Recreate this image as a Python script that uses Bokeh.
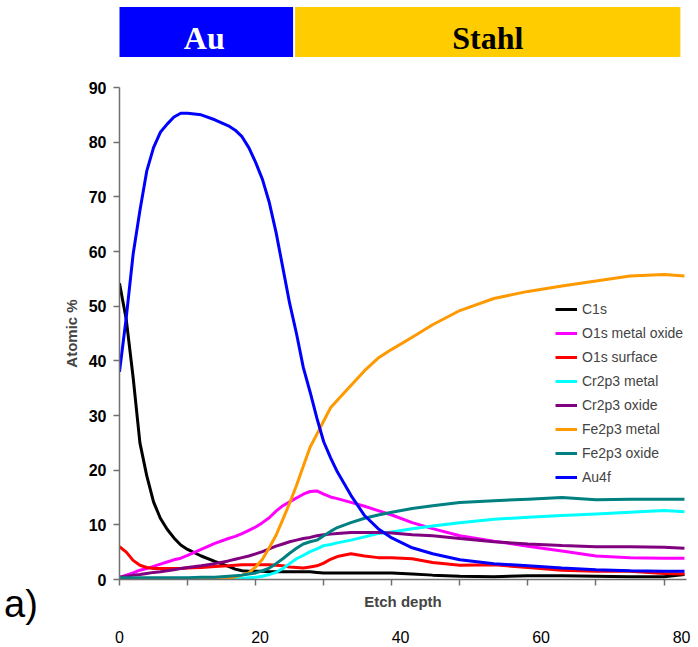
from bokeh.plotting import figure
from bokeh.models import Range1d, LinearAxis, FixedTicker, Legend, LegendItem, Div
from bokeh.layouts import column, row
from bokeh.embed import file_html
from bokeh.resources import INLINE
from bokeh.core.properties import value

# ---------------- data ----------------
depth = [0, 1, 2, 3, 4, 5, 6, 7, 8, 9, 10, 12, 14, 16, 17, 18, 19, 20, 21, 22, 23, 24,
         25, 26, 27, 28, 29, 30, 31, 32, 34, 36, 38, 40, 43, 46, 50, 55, 60, 65, 70, 75, 80, 83]

c1s = [54.2, 47.5, 37.0, 25.0, 19.0, 14.2, 11.2, 9.2, 7.6, 6.3, 5.5, 4.3, 3.3, 2.4, 1.9, 1.6, 1.5, 1.5,
       1.5, 1.4, 1.4, 1.4, 1.4, 1.4, 1.4, 1.4, 1.3, 1.2, 1.2, 1.2, 1.2, 1.2, 1.2, 1.2, 1.0, 0.8, 0.6,
       0.5, 0.7, 0.7, 0.6, 0.5, 0.5, 0.9]
o1s_metal_oxide = [0.4, 0.8, 1.2, 1.7, 2.0, 2.4, 2.8, 3.2, 3.6, 3.9, 4.4, 5.5, 6.6, 7.5, 7.9, 8.4, 9.0,
                   9.6, 10.4, 11.3, 12.5, 13.5, 14.2, 14.9, 15.6, 16.1, 16.2, 15.6, 15.1, 14.8, 14.1,
                   13.4, 12.6, 11.8, 10.4, 9.3, 8.0, 7.0, 6.1, 5.2, 4.3, 4.0, 3.9, 3.9]
o1s_surface = [6.0, 5.0, 3.5, 2.6, 2.2, 2.0, 2.0, 2.0, 2.0, 2.0, 2.1, 2.2, 2.4, 2.5, 2.6, 2.7, 2.7, 2.7,
               2.7, 2.7, 2.6, 2.5, 2.3, 2.2, 2.1, 2.3, 2.5, 3.0, 3.7, 4.2, 4.7, 4.3, 4.0, 4.0, 3.8, 3.1,
               2.6, 2.7, 2.2, 1.7, 1.5, 1.5, 1.1, 1.0]
cr2p3_metal = [0.2, 0.2, 0.2, 0.2, 0.2, 0.2, 0.2, 0.2, 0.2, 0.2, 0.2, 0.2, 0.2, 0.2, 0.2, 0.2, 0.3, 0.4,
               0.6, 0.9, 1.3, 2.0, 2.9, 3.8, 4.4, 5.1, 5.6, 6.2, 6.4, 6.7, 7.2, 7.8, 8.4, 8.7, 9.3, 9.8,
               10.4, 11.0, 11.4, 11.7, 12.0, 12.3, 12.6, 12.4]
cr2p3_oxide = [0.4, 0.6, 0.8, 0.9, 1.1, 1.3, 1.4, 1.6, 1.8, 2.0, 2.2, 2.5, 2.9, 3.4, 3.7, 4.0, 4.3, 4.7,
               5.1, 5.6, 6.1, 6.5, 6.9, 7.2, 7.5, 7.7, 8.0, 8.2, 8.3, 8.4, 8.6, 8.6, 8.6, 8.5, 8.2, 8.0,
               7.5, 6.9, 6.5, 6.2, 6.0, 6.0, 5.9, 5.7]
fe2p3_metal = [0.1, 0.1, 0.1, 0.1, 0.1, 0.1, 0.1, 0.1, 0.1, 0.1, 0.1, 0.1, 0.1, 0.2, 0.5, 0.8, 1.2, 2.3,
               3.7, 5.8, 8.1, 11.0, 14.0, 17.2, 20.7, 24.2, 26.6, 29.0, 31.4, 32.8, 35.5, 38.2, 40.5,
               42.1, 44.3, 46.6, 49.2, 51.4, 52.7, 53.7, 54.6, 55.5, 55.8, 55.5]
fe2p3_oxide = [0.3, 0.3, 0.3, 0.3, 0.3, 0.3, 0.3, 0.3, 0.3, 0.3, 0.3, 0.4, 0.4, 0.6, 0.7, 0.8, 1.0, 1.2,
               1.6, 2.1, 2.9, 3.8, 4.8, 5.7, 6.5, 6.9, 7.2, 8.0, 8.8, 9.5, 10.4, 11.2, 11.8, 12.3, 13.0,
               13.5, 14.1, 14.4, 14.7, 15.0, 14.6, 14.7, 14.7, 14.7]
au4f = [38.0, 48.0, 59.5, 67.5, 74.7, 79.0, 81.8, 83.3, 84.6, 85.3, 85.3, 85.0, 84.1, 83.0, 82.2, 81.0,
        79.0, 76.3, 73.2, 69.0, 63.5, 57.0, 50.5, 45.0, 38.8, 34.3, 29.5, 25.2, 22.3, 19.7, 15.4, 11.7,
        9.3, 7.6, 5.8, 4.7, 3.6, 2.9, 2.5, 2.1, 1.8, 1.6, 1.5, 1.5]

series_names = ["C1s", "O1s metal oxide", "O1s surface", "Cr2p3 metal", "Cr2p3 oxide",
                "Fe2p3 metal", "Fe2p3 oxide", "Au4f"]
series_values = [c1s, o1s_metal_oxide, o1s_surface, cr2p3_metal, cr2p3_oxide,
                 fe2p3_metal, fe2p3_oxide, au4f]
series_colors = ["#000000", "#FF00FF", "#FF0000", "#00FFFF", "#800080",
                 "#FF9900", "#008080", "#0000FF"]

y_ticks = [0, 10, 20, 30, 40, 50, 60, 70, 80, 90]
x_ticks = [0, 10, 20, 30, 40, 50, 60, 70, 80]
bottom_labels = [0, 20, 40, 60, 80]

banner_labels = ["Au", "Stahl"]
banner_from = [-0.6, 25.8]
banner_to = [25.5, 82.4]
banner_fill = ["#0000FF", "#FFCC00"]
banner_text_color = ["#FFFFFF", "#000000"]

panel_tag = "a)"

# ---------------- layout constants ----------------
W = 698
BANNER_H = 70
MAIN_H = 577
TAG_W = 50
LEFT = 119
RIGHT = 12
XMAX = 83.3
FONT = "Liberation Sans"

# ---------------- main plot ----------------
p = figure(width=W - TAG_W, height=MAIN_H, x_range=Range1d(0, XMAX), y_range=Range1d(0, 90),
           output_backend="svg", toolbar_location=None,
           min_border_left=LEFT - TAG_W, min_border_right=RIGHT, min_border_top=17,
           min_border_bottom=68)
p.outline_line_color = None
p.grid.visible = False
p.background_fill_color = "white"

items = []
for name, vals, col in zip(series_names, series_values, series_colors):
    r = p.line(depth, vals, line_color=col, line_width=3)
    items.append(LegendItem(label=name, renderers=[r]))

axis_col = "#707070"
p.yaxis.ticker = FixedTicker(ticks=y_ticks)
p.yaxis.axis_label = "Atomic %"
p.yaxis.axis_label_text_font = FONT
p.yaxis.axis_label_text_font_style = "bold"
p.yaxis.axis_label_text_font_size = "15px"
p.yaxis.axis_label_standoff = 6
p.yaxis.major_label_text_font = FONT
p.yaxis.major_label_text_font_style = "bold"
p.yaxis.major_label_text_font_size = "16px"
p.yaxis.major_label_text_color = "#000000"
p.yaxis.major_label_standoff = 7
p.yaxis.major_tick_out = 6
p.yaxis.major_tick_in = 0
p.yaxis.minor_tick_line_color = None
p.yaxis.axis_line_color = axis_col
p.yaxis.major_tick_line_color = axis_col
p.yaxis.axis_line_width = 1.5
p.yaxis.major_tick_line_width = 1.5

# main x axis: tick marks only (as minor ticks, so no tick labels are drawn)
p.xaxis.ticker = FixedTicker(ticks=[], minor_ticks=x_ticks)
p.xaxis.minor_tick_out = 6
p.xaxis.minor_tick_in = 0
p.xaxis.minor_tick_line_color = axis_col
p.xaxis.minor_tick_line_width = 1.5
p.xaxis.major_label_standoff = 0
p.xaxis.axis_label = "Etch depth"
p.xaxis.axis_label_text_font = FONT
p.xaxis.axis_label_text_font_style = "bold"
p.xaxis.axis_label_text_font_size = "15px"
p.xaxis.axis_label_standoff = 7
p.xaxis.axis_line_color = axis_col
p.xaxis.axis_line_width = 1.5

p.extra_x_ranges = {"lbl": Range1d(-0.01, 80.7)}
ax2 = LinearAxis(x_range_name="lbl", ticker=FixedTicker(ticks=bottom_labels),
                 axis_line_color=None, major_tick_line_color=None, minor_tick_line_color=None,
                 major_label_text_font=FONT, major_label_text_font_size="16px",
                 major_label_text_color="#000000", major_label_standoff=12)
p.add_layout(ax2, "below")

legend = Legend(items=items, location=(436, 92), border_line_color=None,
                background_fill_alpha=0, padding=0, margin=0, spacing=4,
                label_height=20, glyph_height=20, glyph_width=22, label_standoff=5,
                label_text_font=FONT, label_text_font_size="14px")
p.add_layout(legend)

# ---------------- panel tag "a)" ----------------
tag = Div(text=f'<div style="margin-top:515px; margin-left:4px; font-family:\'{FONT}\', Arial, sans-serif; '
               f'font-size:38px; line-height:38px; color:#000000;">{panel_tag}</div>',
          width=TAG_W, height=MAIN_H, margin=0)

# ---------------- banner ----------------
b = figure(width=W, height=BANNER_H, x_range=p.x_range,
           y_range=Range1d(BANNER_H, 0), output_backend="svg", toolbar_location=None,
           min_border=0, min_border_left=LEFT, min_border_right=RIGHT)
b.axis.visible = False
b.grid.visible = False
b.outline_line_color = None
b.quad(left=banner_from, right=banner_to, top=[6.5, 6.5], bottom=[56.5, 56.5],
       fill_color=banner_fill, line_color=None)
mid = [(a + c) / 2 for a, c in zip(banner_from, banner_to)]
b.text(x=mid, y=[37, 37], text=banner_labels, text_color=banner_text_color,
       text_align="center", text_baseline="middle", text_font=value("Liberation Serif"),
       text_font_style="bold", text_font_size="32px")

layout = column(b, row(tag, p, spacing=0), spacing=0)
open("out.html", "w").write(file_html(layout, INLINE))
